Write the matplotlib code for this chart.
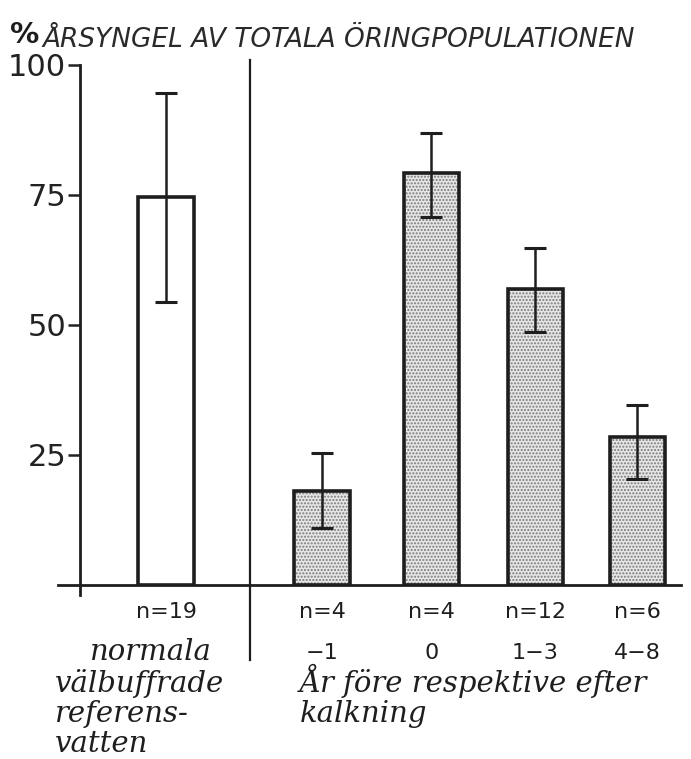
import matplotlib
matplotlib.use("Agg")
import matplotlib.pyplot as plt

# data
groups = ["ref", "-1", "0", "1-3", "4-8"]
values = [74.7, 18.1, 79.3, 56.9, 28.4]
err_low = [54.4, 11.0, 70.8, 48.6, 20.3]
err_high = [94.6, 25.3, 86.9, 64.9, 34.6]
n_labels = ["n=19", "n=4", "n=4", "n=12", "n=6"]
year_labels = ["", "\u22121", "0", "1\u22123", "4\u22128"]
yticks = [25, 50, 75, 100]

title = "\u00c5RSYNGEL AV TOTALA \u00d6RINGPOPULATIONEN"
ref_lines = ["normala", "v\u00e4lbuffrade", "referens-", "vatten"]
kalk_lines = ["\u00c5r f\u00f6re respektive efter", "kalkning"]

W, H = 691, 759
fig = plt.figure(figsize=(W / 100, H / 100), dpi=100)
fig.patch.set_facecolor("white")


def fx(px):
    return px / W


def fy(py):
    return 1 - py / H


# axes: y axis at x=80px, baseline at y=585px, 100 at y=65px
ax = fig.add_axes([fx(80), fy(585), (681 - 80) / W, (585 - 65) / H])
xmin, xmax = -0.827, 4.952
ax.set_xlim(xmin, xmax)
ax.set_ylim(0, 100)
for s in ax.spines.values():
    s.set_visible(False)
ax.set_xticks([])
ax.set_yticks(yticks)
ax.set_yticklabels([str(t) for t in yticks], fontsize=22, family="DejaVu Sans",
                   color="#222")
ax.tick_params(axis="y", direction="out", length=9, width=1.8, pad=1, color="#222")
ax.patch.set_alpha(0)

pos = [0, 1.5, 2.55, 3.55, 4.53]
width = 0.53
ink = "#1e1e1e"

# stippled fill for the liming bars, plain white for the reference bar
for i, (p, v) in enumerate(zip(pos, values)):
    if i == 0:
        ax.bar(p, v, width, color="white", edgecolor="none", zorder=1)
    else:
        ax.bar(p, v, width, color="#e6e6e6", edgecolor="#7a7a7a",
               hatch=".....", linewidth=0, zorder=1)
ax.bar(pos, values, width, fill=False, edgecolor=ink, linewidth=2.6, zorder=2)

lower = [v - lo for v, lo in zip(values, err_low)]
upper = [hi - v for v, hi in zip(values, err_high)]
ax.errorbar(pos, values, yerr=[lower, upper], fmt="none", ecolor=ink,
            elinewidth=1.8, capsize=8, capthick=2.2, zorder=3)

# axis lines drawn by hand so they overshoot like the original
ax.plot([xmin, xmin], [-2, 100], color=ink, lw=2, clip_on=False, zorder=4)
ax.plot([xmin - 0.21, xmax], [0, 0], color=ink, lw=2, clip_on=False, zorder=4)
divider = 0.808
ax.plot([divider, divider], [101, -14.4], color=ink, lw=1.6, clip_on=False)

# labels under the bars
for p, n, yl in zip(pos, n_labels, year_labels):
    ax.text(p, -5.2, n, ha="center", va="center", fontsize=16,
            family="DejaVu Sans", color=ink, clip_on=False)
    if yl:
        ax.text(p, -13.0, yl, ha="center", va="center", fontsize=16,
                family="DejaVu Sans", color=ink, clip_on=False)

# title
fig.text(fx(10), fy(35), "%", fontsize=21, fontweight="bold",
         family="DejaVu Sans", va="center", color=ink)
fig.text(fx(42), fy(47), title, fontsize=19, style="italic", fontweight="light",
         family="DejaVu Sans", va="baseline", color="#2a2a2a")

# handwritten-style captions
script = dict(fontsize=21, style="italic", family="DejaVu Serif", color=ink,
              va="baseline")
fig.text(fx(90), fy(660), ref_lines[0], **script)
for k, line in enumerate(ref_lines[1:]):
    fig.text(fx(55), fy(692 + 30 * k), line, **script)
fig.text(fx(300), fy(692), kalk_lines[0], **script)
fig.text(fx(300), fy(722), kalk_lines[1], **script)

fig.savefig("out.png", dpi=100, facecolor="white")
